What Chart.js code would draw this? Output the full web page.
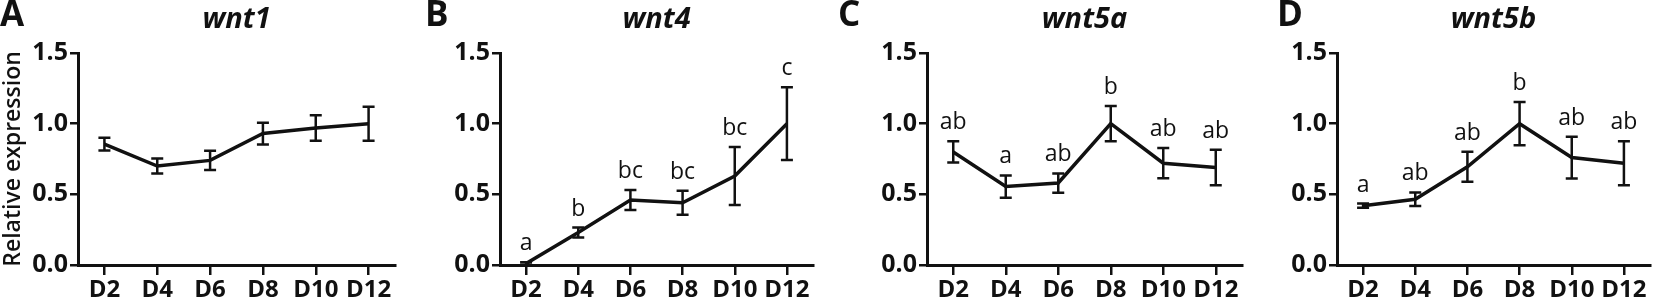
<!DOCTYPE html>
<html>
<head>
<meta charset="utf-8">
<script src="https://cdn.jsdelivr.net/npm/chart.js"></script>
<style>
  html, body { margin: 0; padding: 0; background: #fff; }
  body { width: 1654px; height: 299px; position: relative; overflow: hidden; }
  .panel { position: absolute; top: 0; height: 299px; }
</style>
</head>
<body>
<div class="panel" style="left:0;width:410px"><canvas id="chartA"></canvas></div>
<div class="panel" style="left:410px;width:415px"><canvas id="chartB"></canvas></div>
<div class="panel" style="left:825px;width:420px"><canvas id="chartC"></canvas></div>
<div class="panel" style="left:1245px;width:409px"><canvas id="chartD"></canvas></div>
<script>
// data (mean and SD per day)
const categories = ['D2', 'D4', 'D6', 'D8', 'D10', 'D12'];
const yTicks = [0, 0.5, 1.0, 1.5];

const wnt1Mean = [0.855, 0.70, 0.74, 0.93, 0.97, 1.00];
const wnt1Err = [0.045, 0.053, 0.068, 0.077, 0.09, 0.12];
const wnt1Letters = ['', '', '', '', '', ''];

const wnt4Mean = [0.01, 0.23, 0.46, 0.44, 0.63, 1.00];
const wnt4Err = [0.01, 0.035, 0.07, 0.085, 0.205, 0.257];
const wnt4Letters = ['a', 'b', 'bc', 'bc', 'bc', 'c'];

const wnt5aMean = [0.80, 0.555, 0.58, 1.00, 0.72, 0.69];
const wnt5aErr = [0.075, 0.079, 0.068, 0.125, 0.107, 0.125];
const wnt5aLetters = ['ab', 'a', 'ab', 'b', 'ab', 'ab'];

const wnt5bMean = [0.42, 0.465, 0.695, 1.00, 0.76, 0.72];
const wnt5bErr = [0.015, 0.048, 0.106, 0.153, 0.148, 0.155];
const wnt5bLetters = ['a', 'ab', 'ab', 'b', 'ab', 'ab'];

Chart.defaults.font.family = "'Open Sans', sans-serif";
Chart.defaults.color = '#111';

// error bars, significance letters, panel letter and gene title
const panelPlugin = {
  id: 'panel',
  afterDatasetsDraw(chart, args, opts) {
    const ctx = chart.ctx;
    const meta = chart.getDatasetMeta(0);
    const y = chart.scales.y;
    const mean = chart.data.datasets[0].data;
    ctx.save();
    ctx.strokeStyle = '#111';
    ctx.lineWidth = 2.5;
    ctx.fillStyle = '#111';
    ctx.font = "23px 'Open Sans'";
    ctx.textAlign = 'center';
    ctx.textBaseline = 'alphabetic';
    meta.data.forEach((pt, i) => {
      const top = y.getPixelForValue(mean[i] + opts.err[i]);
      const bot = y.getPixelForValue(mean[i] - opts.err[i]);
      ctx.beginPath();
      ctx.moveTo(pt.x, top); ctx.lineTo(pt.x, bot);
      ctx.moveTo(pt.x - 6, top); ctx.lineTo(pt.x + 6, top);
      ctx.moveTo(pt.x - 6, bot); ctx.lineTo(pt.x + 6, bot);
      ctx.stroke();
      if (opts.letters[i]) ctx.fillText(opts.letters[i], pt.x, top - 12);
    });
    ctx.restore();
  },
  afterDraw(chart, args, opts) {
    const ctx = chart.ctx;
    const area = chart.chartArea;
    ctx.save();
    ctx.fillStyle = '#111';
    ctx.textBaseline = 'alphabetic';
    ctx.textAlign = 'left';
    ctx.font = "bold 35px 'Open Sans'";
    ctx.fillText(opts.letter, opts.letterX, 26);
    ctx.textAlign = 'center';
    ctx.font = "italic bold 29px 'Open Sans'";
    ctx.fillText(opts.title, (area.left + area.right) / 2, 28);
    ctx.restore();
  }
};

function makePanel(id, letter, letterX, title, mean, err, letters, axisWidth, padRight, showYTitle) {
  return new Chart(document.getElementById(id), {
    type: 'line',
    data: {
      labels: categories,
      datasets: [{
        data: mean,
        borderColor: '#111',
        borderWidth: 3.5,
        pointRadius: 0,
        tension: 0,
        fill: false
      }]
    },
    options: {
      responsive: true,
      maintainAspectRatio: false,
      animation: false,
      layout: { padding: { top: 53, right: padRight, left: 0, bottom: 0 } },
      plugins: {
        legend: { display: false },
        tooltip: { enabled: false },
        panel: { letter: letter, letterX: letterX, title: title, err: err, letters: letters }
      },
      scales: {
        x: {
          offset: true,
          grid: { display: true, drawOnChartArea: false, offset: false, tickLength: 10, color: '#111', lineWidth: 2.5 },
          border: { display: true, color: '#111', width: 3 },
          ticks: { font: { size: 24, weight: 'bold' }, padding: 1, maxRotation: 0, color: '#111' },
          afterFit(scale) { scale.height = 34; }
        },
        y: {
          min: 0,
          max: 1.5,
          afterBuildTicks(scale) { scale.ticks = yTicks.map(v => ({ value: v })); },
          grid: { display: true, drawOnChartArea: false, tickLength: 8, color: '#111', lineWidth: 2.5 },
          border: { display: true, color: '#111', width: 3 },
          ticks: {
            font: { size: 25, weight: 'bold' }, padding: 2, color: '#111',
            callback: v => v.toFixed(1)
          },
          title: {
            display: showYTitle,
            text: 'Relative expression',
            font: { size: 23, weight: '600' },
            padding: { top: 0, bottom: 0 },
            color: '#111'
          },
          afterFit(scale) { scale.width = axisWidth; }
        }
      }
    },
    plugins: [panelPlugin]
  });
}

makePanel('chartA', 'A', 0, 'wnt1', wnt1Mean, wnt1Err, wnt1Letters, 78, 15, true);
makePanel('chartB', 'B', 15, 'wnt4', wnt4Mean, wnt4Err, wnt4Letters, 90, 12, false);
makePanel('chartC', 'C', 13, 'wnt5a', wnt5aMean, wnt5aErr, wnt5aLetters, 102, 3, false);
makePanel('chartD', 'D', 32, 'wnt5b', wnt5bMean, wnt5bErr, wnt5bLetters, 92, 4, false);
</script>
</body>
</html>
